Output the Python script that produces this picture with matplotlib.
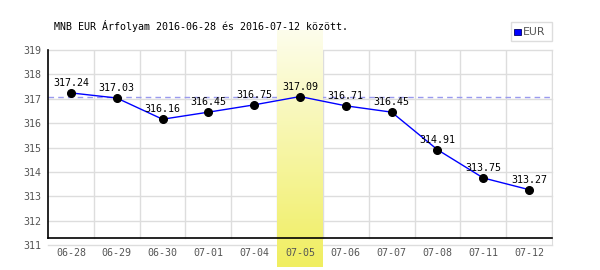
import numpy as np
import matplotlib
matplotlib.use('Agg')
import matplotlib.pyplot as plt
from matplotlib.patches import Rectangle

# data
dates = ['06-28', '06-29', '06-30', '07-01', '07-04', '07-05',
         '07-06', '07-07', '07-08', '07-11', '07-12']
values = [317.24, 317.03, 316.16, 316.45, 316.75, 317.09,
          316.71, 316.45, 314.91, 313.75, 313.27]
yticks = [311, 312, 313, 314, 315, 316, 317, 318, 319]
hl = 5  # highlighted day (07-05)
title = 'MNB EUR Árfolyam 2016-06-28 és 2016-07-12 között.'

W, H = 600, 270
mono = 'DejaVu Sans Mono'
grid_c = '#dddddd'
tick_c = '#555555'

fig = plt.figure(figsize=(W / 100, H / 100), dpi=100)
# axes: x 48..552 px, y 50..245 px (value 319..311)
ax = fig.add_axes([48 / W, 1 - 245 / H, 504 / W, 195 / H])
ax.set_facecolor('none')
px = 195 / 8.0                      # pixels per unit
y_axis = 311 + 7 / px               # black x-axis line sits at y=238 px

# grid
for v in yticks:
    ax.axhline(v, color=grid_c, lw=1, zorder=0.5, clip_on=False)
for i in range(len(dates)):
    ax.plot([i + 0.5, i + 0.5], [y_axis, 319], color=grid_c, lw=1, zorder=0.5)

# highlight band with vertical gradient
n = 256
grad = np.linspace(0, 1, n)[:, None]
top = np.array([253, 253, 236]) / 255
bot = np.array([240, 238, 96]) / 255
img = (top[None, None, :] * (1 - grad[..., None]) + bot[None, None, :] * grad[..., None])
band_top = 319 + 20 / px
band_bot = 311 - 22 / px
ax.imshow(img, extent=[hl - 0.5, hl + 0.5, band_bot, band_top], aspect='auto',
          origin='upper', zorder=1, clip_on=False, interpolation='bilinear')
ax.set_xlim(-0.5, len(dates) - 0.5)
ax.set_ylim(311, 319)

# reference dashed line at highlighted value
ax.axhline(values[hl], color='#9999ee', lw=1, ls=(0, (4, 3)), zorder=0.8)

# black axis lines
ax.plot([-0.5, len(dates) - 0.5], [y_axis, y_axis], color='black', lw=1.2, zorder=3, clip_on=False)
ax.plot([-0.5, -0.5], [y_axis, 319], color='black', lw=1.2, zorder=3, clip_on=False)

# series
x = np.arange(len(dates))
ax.plot(x, values, color='#0000ff', lw=1, zorder=4)
ax.plot(x, values, 'o', color='black', ms=5.5, zorder=5)
for xi, v in zip(x, values):
    ax.annotate('%.2f' % v, (xi, v), xytext=(0, 10), textcoords='offset pixels',
                ha='center', va='center', fontsize=7.2, family=mono, color='black', zorder=6)

for s in ['left', 'bottom', 'top']:
    ax.spines[s].set_visible(False)
ax.spines['right'].set_color(grid_c)
ax.spines['right'].set_bounds(311, 319)

ax.set_xticks(x)
ax.set_xticklabels(dates)
ax.set_yticks(yticks)
ax.tick_params(length=0, labelsize=7.2, labelcolor=tick_c)
ax.tick_params(axis='x', pad=2)
ax.tick_params(axis='y', pad=4.5)
for lab in ax.get_xticklabels() + ax.get_yticklabels():
    lab.set_family(mono)
    lab.set_zorder(6)

# title
fig.text(54 / W, 1 - 26 / H, title, family=mono, fontsize=7.2, va='center', ha='left')

# legend
fig.patches.append(Rectangle((511 / W, 1 - 41 / H), 41 / W, 19 / H, transform=fig.transFigure,
                             facecolor='white', edgecolor=grid_c, lw=1))
fig.patches.append(Rectangle((514 / W, 1 - 35 / H), 6.5 / W, 6.5 / H, transform=fig.transFigure,
                             facecolor='#0000ff', edgecolor='#000066', lw=0.6))
fig.text(523 / W, 1 - 32 / H, 'EUR', family='DejaVu Sans', fontsize=7.8, color=tick_c,
         va='center', ha='left')

fig.savefig('out.png', dpi=100)
